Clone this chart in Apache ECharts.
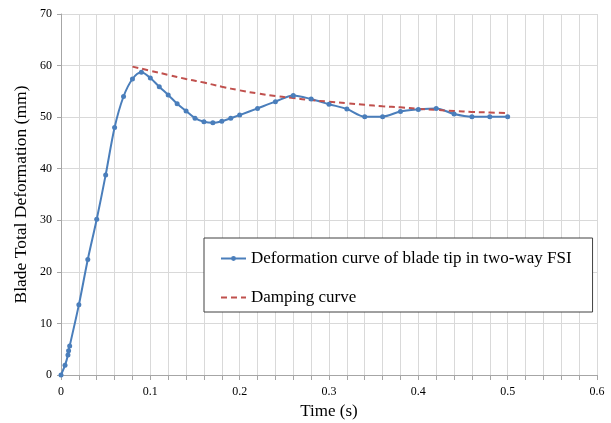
<!DOCTYPE html>
<html>
<head>
<meta charset="utf-8">
<script src="https://cdn.jsdelivr.net/npm/echarts@6/dist/echarts.min.js"></script>
<style>
  html, body { margin: 0; padding: 0; background: #fff; }
  #main { width: 611px; height: 423px; }
</style>
</head>
<body>
<div id="main"></div>
<script>
// blade tip deformation, two-way FSI
var time = [0, 0.0045, 0.0078, 0.0085, 0.0097, 0.02, 0.03, 0.04, 0.05, 0.06, 0.07, 0.08, 0.09, 0.10,
  0.11, 0.12, 0.13, 0.14, 0.15, 0.16, 0.17, 0.18, 0.19, 0.20, 0.22, 0.24, 0.26, 0.28, 0.30,
  0.32, 0.34, 0.36, 0.38, 0.40, 0.42, 0.44, 0.46, 0.48, 0.50];
var deformation = [0, 1.9, 3.9, 4.7, 5.6, 13.6, 22.4, 30.2, 38.8, 48.0, 54.0, 57.4, 58.7, 57.6,
  55.9, 54.3, 52.6, 51.2, 49.8, 49.1, 48.9, 49.2, 49.8, 50.4, 51.7, 53.0, 54.2, 53.5, 52.5,
  51.6, 50.1, 50.1, 51.1, 51.5, 51.7, 50.6, 50.1, 50.1, 50.1];

// damping envelope
var dampTime = [0.08, 0.10, 0.12, 0.14, 0.16, 0.18, 0.20, 0.22, 0.24, 0.26, 0.28, 0.30,
  0.32, 0.34, 0.36, 0.38, 0.40, 0.42, 0.44, 0.46, 0.48, 0.50];
var dampValue = [59.8, 59.0, 58.2, 57.4, 56.7, 55.9, 55.2, 54.6, 54.1, 53.7, 53.3, 53.0,
  52.7, 52.4, 52.1, 51.9, 51.6, 51.4, 51.2, 51.0, 50.9, 50.8];

var pairs = function (xs, ys) {
  return xs.map(function (x, i) { return [x, ys[i]]; });
};

var serif = 'Liberation Serif';
var myChart = echarts.init(document.getElementById('main'));
var option = {
  backgroundColor: '#fff',
  animation: false,
  grid: { left: 61, right: 14, top: 14, bottom: 48, outerBoundsMode: 'none' },
  legend: {
    orient: 'vertical',
    left: 204,
    top: 238,
    padding: [12, 21, 6, 16],
    itemWidth: 25,
    itemHeight: 6,
    itemGap: 22,
    backgroundColor: '#fff',
    borderColor: '#404040',
    borderWidth: 1,
    textStyle: { fontFamily: serif, fontSize: 17, color: '#000' },
    data: [
      { name: 'Deformation curve of blade tip in two-way FSI' },
      { name: 'Damping curve', itemStyle: { opacity: 0 } }
    ]
  },
  xAxis: {
    type: 'value',
    min: 0,
    max: 0.6,
    interval: 0.1,
    name: 'Time (s)',
    nameLocation: 'middle',
    nameGap: 26,
    nameTextStyle: { fontFamily: serif, fontSize: 17, color: '#000' },
    axisLine: { lineStyle: { color: '#a6a6a6' } },
    axisTick: { show: true, length: 5, lineStyle: { color: '#a6a6a6' } },
    minorTick: { show: true, splitNumber: 5, length: 5, lineStyle: { color: '#a6a6a6' } },
    axisLabel: { fontFamily: serif, fontSize: 12, color: '#000', margin: 11 },
    splitLine: { show: true, lineStyle: { color: '#d9d9d9' } },
    minorSplitLine: { show: true, lineStyle: { color: '#d9d9d9' } }
  },
  yAxis: {
    type: 'value',
    min: 0,
    max: 70,
    interval: 10,
    name: 'Blade Total Deformation (mm)',
    nameLocation: 'middle',
    nameGap: 31,
    nameMoveOverlap: false,
    nameTextStyle: { fontFamily: serif, fontSize: 17.5, color: '#000' },
    axisLine: { show: true, lineStyle: { color: '#a6a6a6' } },
    axisTick: { show: true, length: 4, lineStyle: { color: '#a6a6a6' } },
    axisLabel: { fontFamily: serif, fontSize: 12, color: '#000', margin: 9 },
    splitLine: { show: true, lineStyle: { color: '#d9d9d9' } }
  },
  series: [
    {
      name: 'Deformation curve of blade tip in two-way FSI',
      type: 'line',
      smooth: 0.3,
      symbol: 'circle',
      symbolSize: 5,
      itemStyle: { color: '#4a7ebb' },
      lineStyle: { color: '#4a7ebb', width: 2 },
      data: pairs(time, deformation)
    },
    {
      name: 'Damping curve',
      type: 'line',
      smooth: true,
      symbol: 'none',
      itemStyle: { color: '#c0504d' },
      lineStyle: { color: '#c0504d', width: 2, type: [6, 4] },
      data: pairs(dampTime, dampValue)
    }
  ]
};
myChart.setOption(option);
</script>
</body>
</html>
